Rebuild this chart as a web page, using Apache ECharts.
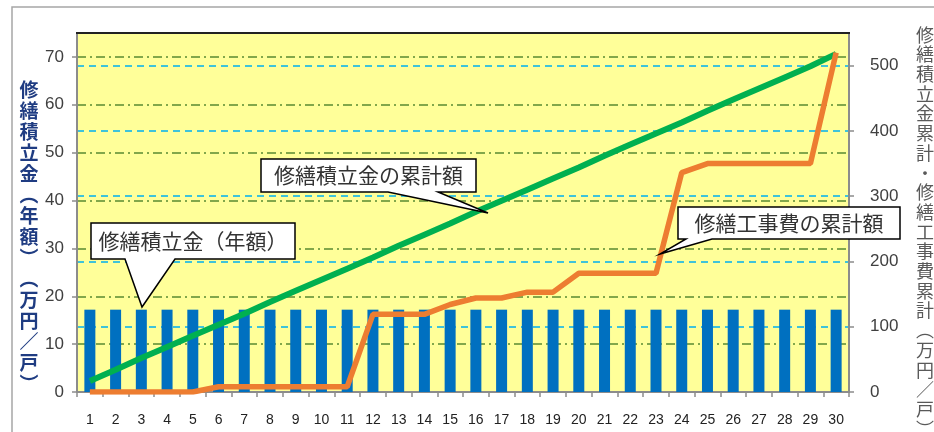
<!DOCTYPE html>
<html><head><meta charset="utf-8">
<script src="https://cdn.jsdelivr.net/npm/echarts@6/dist/echarts.min.js"></script>
<style>html,body{margin:0;padding:0;background:#fff}#c{width:934px;height:432px}</style>
</head><body><div id="c"></div>
<script>
// ---- data ----
const years = ['1','2','3','4','5','6','7','8','9','10','11','12','13','14','15','16','17','18','19','20','21','22','23','24','25','26','27','28','29','30'];
const annualFund = [17.2,17.2,17.2,17.2,17.2,17.2,17.2,17.2,17.2,17.2,17.2,17.2,17.2,17.2,17.2,17.2,17.2,17.2,17.2,17.2,17.2,17.2,17.2,17.2,17.2,17.2,17.2,17.2,17.2,17.2];
const cumulativeFund = [17,34,52,69,86,103,120,138,155,172,189,206,224,241,258,276,293,310,327,344,362,379,396,413,431,448,465,482,499,518];
const cumulativeRepair = [0,0,0,0,0,8,8,8,8,8,8,119,119,119,134,144,144,153,153,182,182,182,182,336,350,350,350,350,350,520];
const leftTicks = [0,10,20,30,40,50,60,70];
const rightTicks = [0,100,200,300,400,500];
const leftTitle = '修繕積立金︵年額︶︵万円／戸︶';
const rightTitle = '修繕積立金累計・修繕工事費累計︵万円／戸︶';
const calloutFund = '修繕積立金の累計額';
const calloutAnnual = '修繕積立金（年額）';
const calloutRepair = '修繕工事費の累計額';

const FONT = '"Noto Sans CJK JP", sans-serif';
const NUMFONT = '"Liberation Sans", Arial, sans-serif';

function callout(box, base, tip, text, fontSize) {
  const [x0,y0,x1,y1] = box;
  return [
    { type:'polygon', z:100,
      shape:{ points:[[x0,y0],[x1,y0],[x1,y1],[base[1],y1],tip,[base[0],y1],[x0,y1]] },
      style:{ fill:'#fff', stroke:'#000', lineWidth:1.5 } },
    { type:'text', z:101,
      style:{ text:text, x:(x0+x1)/2, y:(y0+y1)/2, textAlign:'center', textVerticalAlign:'middle',
              font: fontSize+'px '+FONT, fill:'#333' } }
  ];
}

const chart = echarts.init(document.getElementById('c'));
chart.setOption({
  animation:false,
  backgroundColor:'#fff',
  grid:{ left:77, right:85, top:33, bottom:40, show:true, backgroundColor:'#FFFF99', borderWidth:0 },
  xAxis:{ type:'category', data:years, boundaryGap:true,
    axisLine:{ lineStyle:{ color:'#8c8c8c', width:2 } },
    axisTick:{ show:true, length:5, lineStyle:{ color:'#8c8c8c', width:1.5 } },
    axisLabel:{ color:'#222', fontSize:14, margin:21, fontFamily:NUMFONT, interval:0 } },
  yAxis:[
    { type:'value', min:0, max:75, interval:10, position:'left',
      axisLine:{ show:true, lineStyle:{ color:'#8c8c8c', width:2 } },
      axisTick:{ show:true, length:5, lineStyle:{ color:'#8c8c8c', width:1.5 } },
      axisLabel:{ color:'#404040', fontSize:17, margin:13, fontFamily:NUMFONT, showMaxLabel:false,
        formatter:v => leftTicks.includes(v) ? String(v) : '' },
      splitLine:{ show:true, lineStyle:{ color:'#5a8a32', width:1.5, type:[9,4,2,4] } } },
    { type:'value', min:0, max:550, interval:100, position:'right',
      axisLine:{ show:true, lineStyle:{ color:'#8c8c8c', width:2 } },
      axisTick:{ show:true, length:5, lineStyle:{ color:'#8c8c8c', width:1.5 } },
      axisLabel:{ color:'#404040', fontSize:17, margin:21, fontFamily:NUMFONT, showMaxLabel:false,
        formatter:v => rightTicks.includes(v) ? String(v) : '' },
      splitLine:{ show:true, lineStyle:{ color:'#00B0F0', width:1.5, type:[7,5] } } }
  ],
  series:[
    { type:'bar', yAxisIndex:0, data:annualFund, barWidth:11, itemStyle:{ color:'#0070C0' }, z:2 },
    { type:'line', yAxisIndex:1, data:cumulativeFund, symbol:'none', z:3,
      lineStyle:{ color:'#00B050', width:6 } },
    { type:'line', yAxisIndex:1, data:cumulativeRepair, symbol:'none', z:4,
      lineStyle:{ color:'#ED7D31', width:5.5 } }
  ],
  graphic:[
    { type:'rect', z:90, shape:{ x:12, y:7, width:960, height:460 }, style:{ fill:null, stroke:'#a6a6a6', lineWidth:1.5 } },
    { type:'line', z:90, shape:{ x1:76, y1:33, x2:850, y2:33 }, style:{ stroke:'#222', lineWidth:2 } },
    { type:'text', z:90, style:{ text:Array.from(leftTitle).join('\n'), x:29, y:79, textAlign:'center', textVerticalAlign:'top',
        font:'bold 19px '+FONT, fill:'#1F3C82', lineHeight:21 } },
    { type:'text', z:90, style:{ text:Array.from(rightTitle).join('\n'), x:925, y:25, textAlign:'center', textVerticalAlign:'top',
        font:'18px '+FONT, fill:'#595959', lineHeight:19.7 } },
    ...callout([261,159,476,192],[388,438],[488,213],calloutFund,21),
    ...callout([91,223,295,259],[125,175],[142,307],calloutAnnual,21),
    ...callout([678,207,900,239],[686,712],[660,254],calloutRepair,21)
  ]
});
</script></body></html>
